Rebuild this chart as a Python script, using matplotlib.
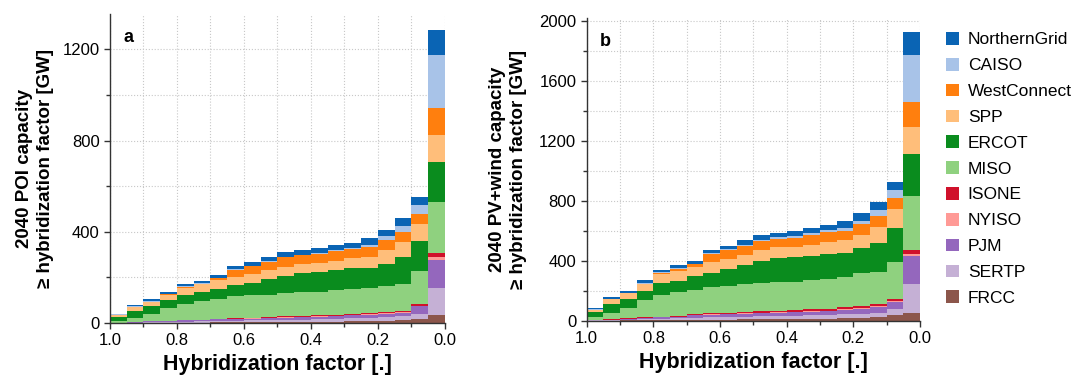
import matplotlib
matplotlib.use("Agg")
import matplotlib.pyplot as plt
from matplotlib.ticker import MultipleLocator, FormatStrFormatter
from matplotlib.patches import Patch
import numpy as np

plt.rcParams['font.family'] = ['Liberation Sans', 'DejaVu Sans']

# bin left edges (hybridization factor, from 1.0 down to 0.05)
bin_starts = [1.00, 0.95, 0.90, 0.85, 0.80, 0.75, 0.70, 0.65, 0.60, 0.55,
              0.50, 0.45, 0.40, 0.35, 0.30, 0.25, 0.20, 0.15, 0.10, 0.05]
regions = ['FRCC', 'SERTP', 'PJM', 'NYISO', 'ISONE', 'MISO', 'ERCOT',
           'SPP', 'WestConnect', 'CAISO', 'NorthernGrid']
colors = {'NorthernGrid': '#0a64b4', 'CAISO': '#a8c3e8', 'WestConnect': '#ff7f0e',
          'SPP': '#ffbe7a', 'ERCOT': '#0a8c1e', 'MISO': '#8fd17f', 'ISONE': '#d0112b',
          'NYISO': '#ff9a96', 'PJM': '#9467bd', 'SERTP': '#c5b0d5', 'FRCC': '#8c564b'}

# Panel a: POI capacity [GW]
a_FRCC  = [0, 0, 1, 1, 2, 2, 3, 3, 4, 4, 5, 5, 6, 6, 7, 8, 9, 12, 19, 34]
a_SERTP = [1, 1, 3, 3, 4, 5, 6, 7, 7, 8, 9, 10, 11, 12, 13, 14, 16, 18, 22, 120]
a_PJM   = [1, 2, 4, 4, 5, 6, 7, 8, 8, 9, 10, 11, 11, 12, 13, 14, 15, 15, 32, 124]
a_NYISO = [0, 0, 0, 0, 0, 1, 1, 1, 1, 1, 1, 1, 1, 2, 2, 2, 2, 2, 3, 12]
a_ISONE = [0, 1, 1, 1, 1, 1, 2, 3, 3, 4, 4, 5, 5, 5, 5, 6, 6, 6, 9, 18]
a_MISO  = [8, 20, 32, 58, 73, 80, 85, 95, 98, 98, 102, 102, 104, 107, 107, 108, 114, 120, 142, 222]
a_ERCOT = [17, 29, 32, 35, 38, 39, 47, 48, 54, 70, 77, 85, 86, 88, 92, 91, 98, 117, 132, 174]
a_SPP   = [7, 16, 19, 22, 32, 35, 39, 37, 38, 37, 39, 38, 39, 42, 44, 47, 61, 67, 76, 120]
a_WC    = [2, 3, 2, 2, 4, 3, 6, 31, 35, 37, 41, 39, 41, 41, 42, 44, 41, 44, 44, 120]
a_CAISO = [2, 3, 3, 3, 3, 4, 3, 3, 3, 3, 3, 3, 3, 4, 4, 10, 18, 25, 38, 231]
a_NG    = [2, 5, 7, 9, 10, 10, 12, 15, 17, 20, 20, 20, 22, 22, 23, 28, 29, 35, 34, 110]

# Panel b: PV+wind capacity [GW]
b_FRCC  = [1, 1, 2, 3, 4, 5, 6, 7, 8, 9, 10, 11, 12, 13, 14, 16, 18, 27, 38, 49]
b_SERTP = [1, 3, 5, 7, 9, 10, 14, 16, 17, 18, 19, 21, 22, 23, 24, 27, 30, 27, 38, 196]
b_PJM   = [2, 4, 6, 9, 10, 11, 16, 17, 18, 20, 21, 22, 23, 25, 26, 29, 31, 36, 49, 187]
b_NYISO = [0, 0, 1, 1, 1, 2, 2, 2, 3, 3, 3, 3, 4, 4, 4, 4, 5, 5, 7, 13]
b_ISONE = [0, 1, 1, 2, 3, 3, 6, 7, 7, 8, 9, 10, 10, 11, 12, 13, 14, 14, 13, 27]
b_MISO  = [22, 44, 67, 116, 144, 158, 160, 173, 178, 184, 187, 189, 189, 196, 200, 204, 222, 218, 249, 360]
b_ERCOT = [33, 58, 62, 62, 78, 78, 93, 98, 111, 129, 151, 160, 162, 160, 164, 156, 162, 193, 227, 282]
b_SPP   = [13, 31, 38, 44, 60, 67, 62, 71, 67, 67, 71, 73, 71, 73, 82, 89, 89, 107, 124, 176]
b_WC    = [2, 2, 2, 4, 7, 13, 18, 51, 60, 62, 62, 58, 62, 69, 64, 62, 73, 71, 71, 167]
b_CAISO = [2, 4, 2, 4, 7, 7, 4, 7, 7, 4, 9, 9, 9, 9, 13, 20, 22, 40, 56, 316]
b_NG    = [7, 9, 13, 18, 16, 16, 20, 22, 24, 33, 29, 31, 36, 33, 33, 47, 53, 56, 56, 156]

data_a = {'FRCC': a_FRCC, 'SERTP': a_SERTP, 'PJM': a_PJM, 'NYISO': a_NYISO,
          'ISONE': a_ISONE, 'MISO': a_MISO, 'ERCOT': a_ERCOT, 'SPP': a_SPP,
          'WestConnect': a_WC, 'CAISO': a_CAISO, 'NorthernGrid': a_NG}
data_b = {'FRCC': b_FRCC, 'SERTP': b_SERTP, 'PJM': b_PJM, 'NYISO': b_NYISO,
          'ISONE': b_ISONE, 'MISO': b_MISO, 'ERCOT': b_ERCOT, 'SPP': b_SPP,
          'WestConnect': b_WC, 'CAISO': b_CAISO, 'NorthernGrid': b_NG}

fig = plt.figure(figsize=(10.72, 3.75), dpi=100)
ax_a = fig.add_axes([0.1026, 0.1387, 0.3125, 0.824])
ax_b = fig.add_axes([0.5473, 0.1448, 0.311, 0.807])


def draw(ax, data, ymax, ymajor, ylabel, letter, ylpad):
    bottom = np.zeros(len(bin_starts))
    for r in regions:
        vals = np.array(data[r], dtype=float)
        ax.bar(bin_starts, vals, width=-0.05, align='edge', bottom=bottom,
               color=colors[r], linewidth=0, zorder=2)
        bottom += vals
    ax.set_xlim(1.0, 0.0)
    ax.set_ylim(0, ymax)
    ax.xaxis.set_major_locator(MultipleLocator(0.2))
    ax.xaxis.set_minor_locator(MultipleLocator(0.1))
    ax.yaxis.set_major_locator(MultipleLocator(ymajor))
    ax.yaxis.set_minor_locator(MultipleLocator(ymajor / 2))
    ax.xaxis.set_major_formatter(FormatStrFormatter('%.1f'))
    ax.grid(True, which='both', color='#c8c8c8', linestyle=':', linewidth=0.8, zorder=0)
    ax.set_axisbelow(True)
    for s in ['top', 'right']:
        ax.spines[s].set_visible(False)
    for s in ['left', 'bottom']:
        ax.spines[s].set_color('#333333')
        ax.spines[s].set_linewidth(1.0)
    ax.tick_params(which='major', length=4, width=1, labelsize=12, colors='#333333',
                   labelcolor='black')
    ax.tick_params(which='minor', length=3, width=1, colors='#333333')
    ax.set_xlabel('Hybridization factor [.]', fontsize=15.5, fontweight='bold', labelpad=4)
    ax.set_ylabel(ylabel, fontsize=13.5, fontweight='bold', linespacing=1.3, labelpad=ylpad)
    ax.text(0.04, 0.95, letter, transform=ax.transAxes, fontsize=13,
            fontweight='bold', va='top', ha='left')


draw(ax_a, data_a, 1355, 400, '2040 POI capacity\n≥ hybridization factor [GW]', 'a', 6)
draw(ax_b, data_b, 2020, 400, '2040 PV+wind capacity\n≥ hybridization factor [GW]', 'b', 9)

handles = [Patch(facecolor=colors[r], edgecolor='none') for r in regions[::-1]]
fig.legend(handles, regions[::-1], loc='upper left', bbox_to_anchor=(0.876, 0.933),
           frameon=False, fontsize=12.5, handlelength=0.75, handleheight=0.75,
           handletextpad=0.5, labelspacing=0.6, borderaxespad=0)

fig.savefig('out.png', dpi=100)
